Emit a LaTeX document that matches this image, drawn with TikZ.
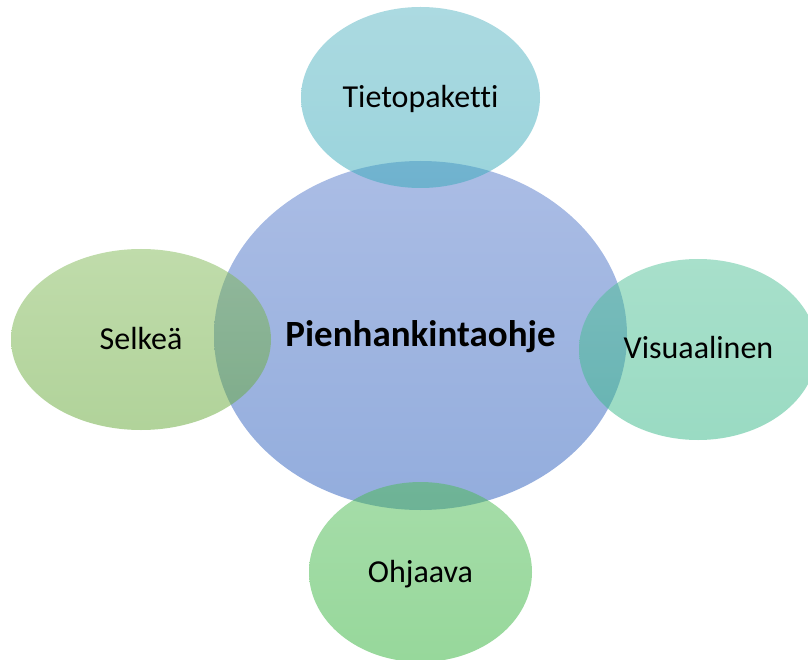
\documentclass[tikz,border=0pt]{standalone}
\usepackage{fontspec}
\setmainfont{Carlito}[Ligatures={NoCommon,NoContextual}]
\usetikzlibrary{shapes.geometric}
\definecolor{cenT}{RGB}{87,123,203}
\definecolor{cenB}{RGB}{39,91,187}
\definecolor{topT}{RGB}{89,181,195}
\definecolor{topB}{RGB}{53,169,185}
\definecolor{lefT}{RGB}{129,185,87}
\definecolor{lefB}{RGB}{99,167,53}
\definecolor{rigT}{RGB}{81,193,151}
\definecolor{rigB}{RGB}{53,183,135}
\definecolor{botT}{RGB}{77,187,83}
\definecolor{botB}{RGB}{47,177,55}
\begin{document}
\begin{tikzpicture}[x=1pt,y=-1pt,
  blob/.style={ellipse, inner sep=0pt, draw=none, fill opacity=0.5},
  lbl/.style={anchor=base, inner sep=0pt, font=\fontsize{32}{38}\selectfont, text=black},
  mainlbl/.style={anchor=base, inner sep=0pt, font=\fontsize{37}{44}\selectfont\bfseries, text=black}]
\useasboundingbox (0,0) rectangle (808,660);
\node[blob, minimum width=413pt, minimum height=349pt, top color=cenT, bottom color=cenB] (cen) at (420.5,335.5) {};
\node[blob, minimum width=239pt, minimum height=181pt, top color=topT, bottom color=topB] (top) at (420.5,97.5) {};
\node[blob, minimum width=260pt, minimum height=181pt, top color=lefT, bottom color=lefB] (lef) at (141,339.5) {};
\node[blob, minimum width=238pt, minimum height=181pt, top color=rigT, bottom color=rigB] (rig) at (698,349.5) {};
\node[blob, minimum width=223pt, minimum height=180pt, top color=botT, bottom color=botB] (bot) at (420.5,572) {};
\node[mainlbl] (tcen) at (420.5,346) {Pienhankintaohje};
\node[lbl] (ttop) at (420.5,108) {Tietopaketti};
\node[lbl] (tlef) at (141,349) {Selkeä};
\node[lbl] (trig) at (698.5,358) {Visuaalinen};
\node[lbl] (tbot) at (420.5,582) {Ohjaava};
\end{tikzpicture}
\end{document}
